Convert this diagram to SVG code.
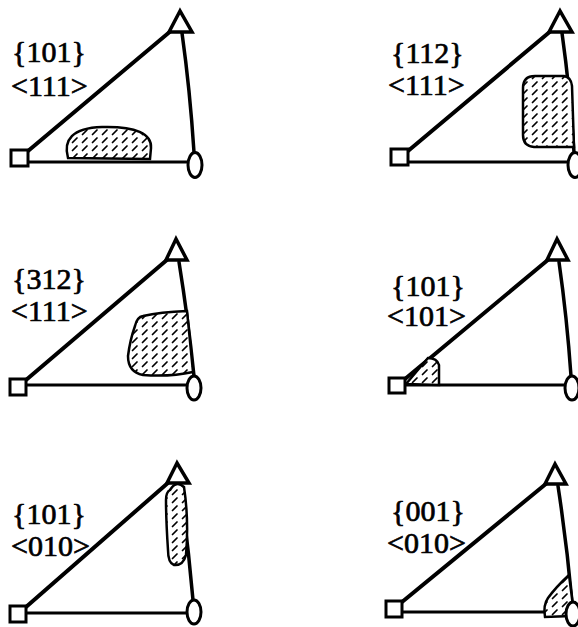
<svg xmlns="http://www.w3.org/2000/svg" width="578" height="627" viewBox="0 0 578 627">
<style>
.ln{fill:none;stroke:#000;stroke-linecap:round}
.hyp{stroke-width:4}
.bot{stroke-width:3}
.arc{stroke-width:3.5}
.sym{fill:#fff;stroke:#000;stroke-width:3}
.tri{fill:#fff;stroke:#000;stroke-width:3.5;stroke-linejoin:miter}
.reg{fill:url(#hatch);stroke:#000;stroke-width:2.5}
text{font-family:'Liberation Serif','Times New Roman',serif;font-size:30px;fill:#000;stroke:#000;stroke-width:0.7}
</style>
<defs>
<pattern id="hatch" patternUnits="userSpaceOnUse" width="10" height="8">
<rect width="10" height="8" fill="#fff"/>
<line x1="2.5" y1="6.5" x2="7" y2="2" stroke="#000" stroke-width="1.7" stroke-linecap="round"/>
</pattern>
</defs>
<rect width="578" height="627" fill="#fff"/>

<g id="connectors">
<line class="ln hyp" x1="28" y1="151" x2="172" y2="30"/>
<line class="ln bot" x1="28" y1="162" x2="188" y2="162"/>
<path class="ln arc" d="M182,33 Q190,90 194,152"/>
<line class="ln hyp" x1="408" y1="151" x2="552" y2="30"/>
<line class="ln bot" x1="408" y1="162" x2="568" y2="162"/>
<path class="ln arc" d="M562,33 Q570,90 574,152"/>
<line class="ln hyp" x1="26" y1="380" x2="168" y2="259"/>
<line class="ln bot" x1="26" y1="385" x2="187" y2="385"/>
<path class="ln arc" d="M179,262 Q188,318 194,376"/>
<line class="ln hyp" x1="405" y1="379" x2="549" y2="259"/>
<line class="ln bot" x1="405" y1="385" x2="565" y2="385"/>
<path class="ln arc" d="M559,262 Q567,318 571,376"/>
<line class="ln hyp" x1="26" y1="607" x2="169" y2="482"/>
<line class="ln bot" x1="26" y1="613" x2="187" y2="613"/>
<path class="ln arc" d="M180,485 Q188,543 193,600"/>
<line class="ln hyp" x1="402" y1="602" x2="547" y2="483"/>
<line class="ln bot" x1="402" y1="612" x2="566" y2="612"/>
<path class="ln arc" d="M558,486 Q567,545 572,602"/>
</g>

<g id="panel1">
<path class="reg" d="M68,158 C63,140 72,128 102,127 C136,126 152,134 151,148 L150,159 Z"/>
<rect class="sym" x="11" y="150" width="17" height="16"/>
<polygon class="tri" points="180,11 169,32 192,32"/>
<ellipse class="sym" cx="195" cy="165" rx="7" ry="12.5"/>
<text x="12" y="62">{101}</text>
<text x="11" y="96">&lt;111&gt;</text>
</g>

<g id="panel2">
<path class="reg" d="M535,76 L564,76 Q571,77 572,86 L574,147 L534,147 Q523,146 523,135 L523,88 Q523,76 535,76 Z"/>
<rect class="sym" x="391" y="149" width="17" height="16"/>
<polygon class="tri" points="560,11 549,32 572,32"/>
<ellipse class="sym" cx="575" cy="165" rx="7" ry="12.5"/>
<text x="391" y="63">{112}</text>
<text x="388" y="95">&lt;111&gt;</text>
</g>

<g id="panel3">
<path class="reg" d="M143,316 Q160,312 187,311 L193,372 Q170,377 143,375 Q128,372 128,356 Q130,340 135,326 Q137,317 143,316 Z"/>
<rect class="sym" x="10" y="379" width="16" height="16"/>
<polygon class="tri" points="176,239 166,260 187,260"/>
<ellipse class="sym" cx="194" cy="388" rx="7" ry="12"/>
<text x="12" y="289">{312}</text>
<text x="11" y="321">&lt;111&gt;</text>
</g>

<g id="panel4">
<path class="reg" d="M406,384 L428,358 Q437,358 439,365 L439,385 Z"/>
<rect class="sym" x="389" y="378" width="16" height="15"/>
<polygon class="tri" points="557,239 547,260 568,260"/>
<ellipse class="sym" cx="572" cy="388" rx="7" ry="12"/>
<text x="391" y="296">{101}</text>
<text x="387" y="326">&lt;101&gt;</text>
</g>

<g id="panel5">
<path class="reg" d="M170,490 Q176,480 184,487 Q189,520 186,555 Q183,566 174,565 Q168,563 168,550 Q166,520 166,500 Q166,492 170,490 Z"/>
<rect class="sym" x="10" y="606" width="16" height="16"/>
<polygon class="tri" points="177,463 167,483 189,483"/>
<ellipse class="sym" cx="194" cy="612" rx="7" ry="12"/>
<text x="12" y="524">{101}</text>
<text x="11" y="556">&lt;010&gt;</text>
</g>

<g id="panel6">
<path class="reg" d="M569,575 L573,606 L571,616 L545,617 Q543,605 548,598 Q556,587 569,575 Z"/>
<rect class="sym" x="386" y="601" width="16" height="16"/>
<polygon class="tri" points="555,464 545,484 566,484"/>
<ellipse class="sym" cx="573" cy="614" rx="7" ry="12"/>
<text x="391" y="521">{001}</text>
<text x="387" y="553">&lt;010&gt;</text>
</g>
</svg>
